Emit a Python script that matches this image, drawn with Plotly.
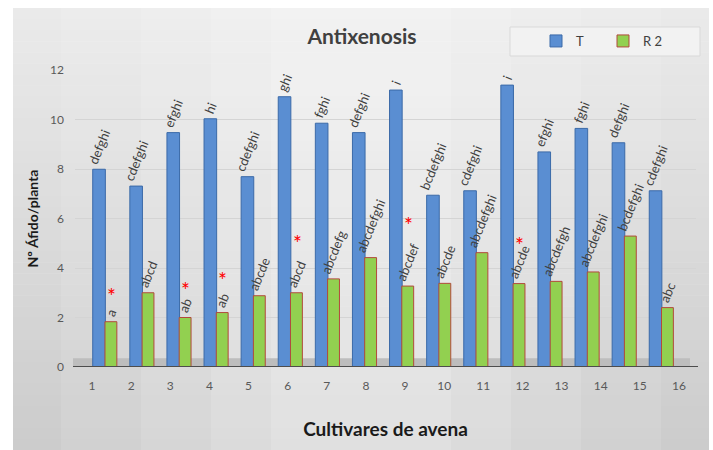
import plotly.graph_objects as go

cultivars = list(range(1, 17))
tick_labels = [str(c) for c in cultivars]
t_values = [7.99, 7.31, 9.47, 10.03, 7.69, 10.92, 9.85, 9.47, 11.19, 6.94, 7.12, 11.39, 8.69, 9.64, 9.06, 7.12]
r2_values = [1.83, 3.0, 2.0, 2.2, 2.88, 3.0, 3.56, 4.42, 3.27, 3.38, 4.62, 3.37, 3.46, 3.84, 5.29, 2.4]
t_letters = ["defghi", "cdefghi", "efghi", "hi", "cdefghi", "ghi", "fghi", "defghi", "i",
             "bcdefghi", "cdefghi", "i", "efghi", "fghi", "defghi", "cdefghi"]
r2_letters = ["a", "abcd", "ab", "ab", "abcde", "abcd", "abcdefg", "abcdefghi", "abcdef",
              "abcde", "abcdefghi", "abcde", "abcdefgh", "abcdefghi", "bcdefghi", "abc"]
star_cultivars = [1, 3, 4, 6, 9, 12]
star_heights = [3.19, 3.43, 3.8, 5.33, 6.06, 5.25]

FONT = "Lato"
L, R, T, B = 75, 17, 70, 83
W, H = 713, 450
pw = W - L - R
ph = H - T - B

def px_to_paper_x(px):
    return (px - L) / pw

def px_to_paper_y(py):
    return (H - B - py) / ph

fig = go.Figure()

fig.add_trace(go.Bar(
    x=cultivars, y=t_values, name="T",
    offset=-0.33, width=0.34,
    marker=dict(color="#5a8ed2", line=dict(color="#3b6aa8", width=1)),
    text=t_letters, textposition="outside", textangle=-68,
    constraintext="none", cliponaxis=False,
    textfont=dict(family=FONT, size=13, color="#404040"),
    hoverinfo="skip",
))
fig.add_trace(go.Bar(
    x=cultivars, y=r2_values, name="R 2",
    offset=0.0, width=0.32,
    marker=dict(color="#92d050", line=dict(color="#b24a3c", width=1)),
    text=r2_letters, textposition="outside", textangle=-68,
    constraintext="none", cliponaxis=False,
    textfont=dict(family=FONT, size=13, color="#404040"),
    hoverinfo="skip",
))
# invisible trace to carry the category tick axis
fig.add_trace(go.Scatter(
    x=[cultivars[0], cultivars[-1]], y=[0, 0], xaxis="x2",
    mode="markers", marker=dict(opacity=0), showlegend=False, hoverinfo="skip",
))

annotations = []
for c, h in zip(star_cultivars, star_heights):
    annotations.append(dict(x=c + 0.18, y=h, xref="x", yref="y", text="*",
                            showarrow=False, yshift=-7,
                            font=dict(family=FONT, size=21, color="#ff0000")))

shapes = []
# background gradient (vertical bands)
x0p, x1p = px_to_paper_x(13), px_to_paper_x(709)
top_px, bot_px = 8, 450
n = 40
c_top = (234, 234, 234)
c_bot = (204, 204, 204)
for i in range(n):
    f = i / (n - 1)
    col = tuple(int(round(c_top[k] + (c_bot[k] - c_top[k]) * f)) for k in range(3))
    ya = top_px + (bot_px - top_px) * i / n
    yb = top_px + (bot_px - top_px) * (i + 1) / n + 0.5
    shapes.append(dict(type="rect", xref="paper", yref="paper",
                       x0=x0p, x1=x1p, y0=px_to_paper_y(yb), y1=px_to_paper_y(ya),
                       fillcolor="rgb(%d,%d,%d)" % col, line=dict(width=0), layer="below"))
# lighter centre glow
for w, op in [(300, 0.10), (220, 0.12), (150, 0.14), (90, 0.16)]:
    shapes.append(dict(type="rect", xref="paper", yref="paper",
                       x0=px_to_paper_x(361 - w), x1=px_to_paper_x(361 + w),
                       y0=px_to_paper_y(450), y1=px_to_paper_y(8),
                       fillcolor="white", opacity=op, line=dict(width=0), layer="below"))
# floor
shapes.append(dict(type="rect", xref="paper", yref="y",
                   x0=px_to_paper_x(73), x1=px_to_paper_x(690), y0=0, y1=0.35,
                   fillcolor="#bdbdbd", line=dict(width=0), layer="below"))
# axis base line
shapes.append(dict(type="line", xref="paper", yref="y",
                   x0=px_to_paper_x(73), x1=px_to_paper_x(698), y0=0, y1=0,
                   line=dict(color="#4d4d4d", width=2)))
# legend box
shapes.append(dict(type="rect", xref="paper", yref="paper",
                   x0=px_to_paper_x(510), x1=px_to_paper_x(700),
                   y0=px_to_paper_y(56), y1=px_to_paper_y(27),
                   fillcolor="#f2f2f2", line=dict(color="#d9d9d9", width=1), layer="below"))

fig.update_layout(
    width=W, height=H,
    margin=dict(l=L, r=R, t=T, b=B, autoexpand=False),
    paper_bgcolor="white", plot_bgcolor="rgba(0,0,0,0)",
    barmode="overlay",
    font=dict(family=FONT, color="#595959"),
    title=dict(text="<b>Antixenosis</b>", x=px_to_paper_x(362), xref="paper", xanchor="center",
               y=1 - 37 / H, yanchor="middle",
               font=dict(family=FONT, size=21, color="#404040")),
    showlegend=True,
    legend=dict(orientation="h", x=px_to_paper_x(536), y=px_to_paper_y(41),
                xanchor="left", yanchor="middle", bgcolor="rgba(0,0,0,0)",
                font=dict(family=FONT, size=13, color="#404040"),
                entrywidth=22, entrywidthmode="pixels", traceorder="normal"),
    xaxis=dict(range=[0.192, 16.93], showticklabels=False, showgrid=False,
               zeroline=False, showline=False, ticks=""),
    xaxis2=dict(overlaying="x", anchor="y", side="bottom",
                range=[0.5655, 16.436], tickmode="array", tickvals=cultivars,
                ticktext=tick_labels, showgrid=False, zeroline=False, showline=False,
                ticks="", ticklabelstandoff=10,
                tickfont=dict(family=FONT, size=12, color="#595959"),
                title=dict(text="<b>Cultivares de avena</b>", standoff=30,
                           font=dict(family=FONT, size=19, color="#1a1a1a"))),
    yaxis=dict(range=[0, 12], dtick=2, showgrid=True, gridcolor="#d4d4d4", gridwidth=1,
               zeroline=False, showline=False, ticks="", ticklabelstandoff=10,
               tickfont=dict(family=FONT, size=12, color="#595959"),
               title=dict(text="<b>Nº Áfido/planta</b>", standoff=8,
                          font=dict(family=FONT, size=14, color="#1a1a1a"))),
    shapes=shapes,
    annotations=annotations,
)

fig.write_html("out.html", config={"displayModeBar": False},
               post_script="document.body.style.margin='0';")
